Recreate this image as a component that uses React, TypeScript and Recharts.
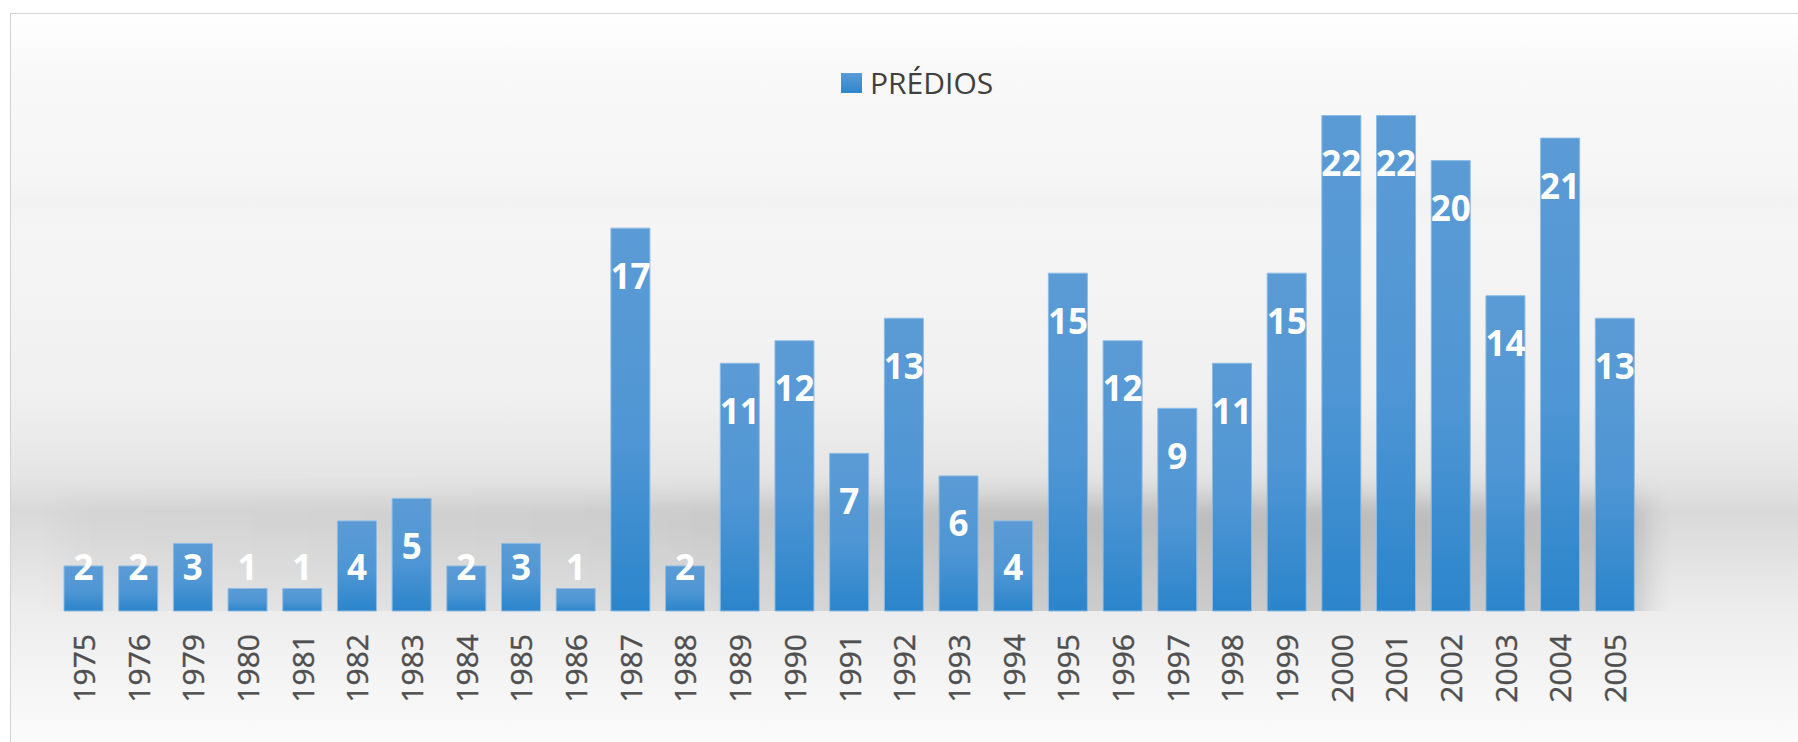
import { BarChart, Bar, XAxis, YAxis, Legend, LabelList } from 'recharts';

const years = [
  '1975', '1976', '1979', '1980', '1981', '1982', '1983', '1984', '1985', '1986',
  '1987', '1988', '1989', '1990', '1991', '1992', '1993', '1994', '1995', '1996',
  '1997', '1998', '1999', '2000', '2001', '2002', '2003', '2004', '2005',
];
const predios = [2, 2, 3, 1, 1, 4, 5, 2, 3, 1, 17, 2, 11, 12, 7, 13, 6, 4, 15, 12, 9, 11, 15, 22, 22, 20, 14, 21, 13];
const seriesName = 'PRÉDIOS';

const data = years.map((year, i) => ({ year, value: predios[i] }));

const FONT = '"Open Sans", "Noto Sans", sans-serif';

// rotated year labels under the bars
const YearTick = ({ x, y, payload }: any) => (
  <text
    x={x}
    y={y + 23}
    transform={`rotate(-90, ${x}, ${y + 23})`}
    textAnchor="end"
    dominantBaseline="central"
    fontFamily={FONT}
    fontSize={30}
    fill="#4f4f4f"
    stroke="#4f4f4f"
    strokeWidth={0.4}
  >
    {payload.value}
  </text>
);

// white value label inside the bar top, kept off the axis for short bars
const ValueLabel = ({ x, y, width, value }: any) => {
  const cy = Math.min(y + 47, 566);
  return (
    <text
      x={x + width / 2}
      y={cy}
      textAnchor="middle"
      dominantBaseline="central"
      fontFamily={FONT}
      fontWeight={700}
      fontSize={35}
      fill="#ffffff"
    >
      {value}
    </text>
  );
};

const LegendContent = () => (
  <div style={{ display: 'flex', alignItems: 'center', height: 34, fontFamily: FONT }}>
    <div
      style={{
        width: 21,
        height: 20,
        background: 'linear-gradient(#5b9bd5, #2e86cb)',
        marginRight: 8,
      }}
    />
    <span style={{ fontSize: 30, lineHeight: '34px', color: '#404040' }}>{seriesName}</span>
  </div>
);

export default function App() {
  return (
    <div
      style={{
        position: 'fixed',
        left: 0,
        top: 0,
        width: 1798,
        height: 742,
        overflow: 'hidden',
        background: '#ffffff',
        fontFamily: FONT,
      }}
    >
      {/* chart frame with its soft grey backdrop */}
      <div
        style={{
          position: 'absolute',
          left: 10,
          top: 13,
          right: -2,
          bottom: -2,
          borderLeft: '1px solid #d2d2d2',
          borderTop: '1px solid #d2d2d2',
          background:
            'linear-gradient(to bottom, #ffffff 0px, #f9f9f9 50px, #f5f5f5 170px, #f2f2f2 188px, #f5f5f5 215px, #f0f0f0 380px, #e5e5e5 460px, #d9d9d9 497px, #dfdfdf 530px, #ededed 598px, #f4f4f4 660px, #fbfbfb 729px)',
        }}
      />
      {/* blurred shadow behind the bars, cut at the baseline */}
      <div style={{ position: 'absolute', left: 30, top: 430, width: 1640, height: 181, overflow: 'hidden' }}>
        <div
          style={{
            position: 'absolute',
            left: 30,
            top: 70,
            width: 1585,
            height: 140,
            background:
              'linear-gradient(to right, rgba(0,0,0,0.02), rgba(0,0,0,0.06) 35%, rgba(0,0,0,0.13) 60%, rgba(0,0,0,0.15))',
            filter: 'blur(14px)',
          }}
        />
      </div>
      <BarChart
        width={1798}
        height={742}
        data={data}
        margin={{ top: 48, right: 156, bottom: 0, left: 56 }}
        style={{ position: 'absolute', left: 0, top: 0 }}
      >
        <defs>
          <linearGradient id="barFill" x1="0" y1="0" x2="0" y2="1">
            <stop offset="0%" stopColor="#5b9bd5" />
            <stop offset="55%" stopColor="#4f96d4" />
            <stop offset="100%" stopColor="#2b85cb" />
          </linearGradient>
        </defs>
        <XAxis
          dataKey="year"
          height={131}
          axisLine={false}
          tickLine={false}
          tickSize={0}
          tickMargin={0}
          interval={0}
          tick={<YearTick />}
        />
        <YAxis hide domain={[0, 25]} />
        <Legend
          layout="horizontal"
          verticalAlign="middle"
          align="center"
          content={<LegendContent />}
          wrapperStyle={{ top: 66, left: 841, width: 200, height: 34 }}
        />
        <Bar
          dataKey="value"
          name={seriesName}
          fill="url(#barFill)"
          stroke="#8dbbe4"
          strokeWidth={1}
          barSize={39}
          isAnimationActive={false}
        >
          <LabelList dataKey="value" content={<ValueLabel />} />
        </Bar>
      </BarChart>
    </div>
  );
}
